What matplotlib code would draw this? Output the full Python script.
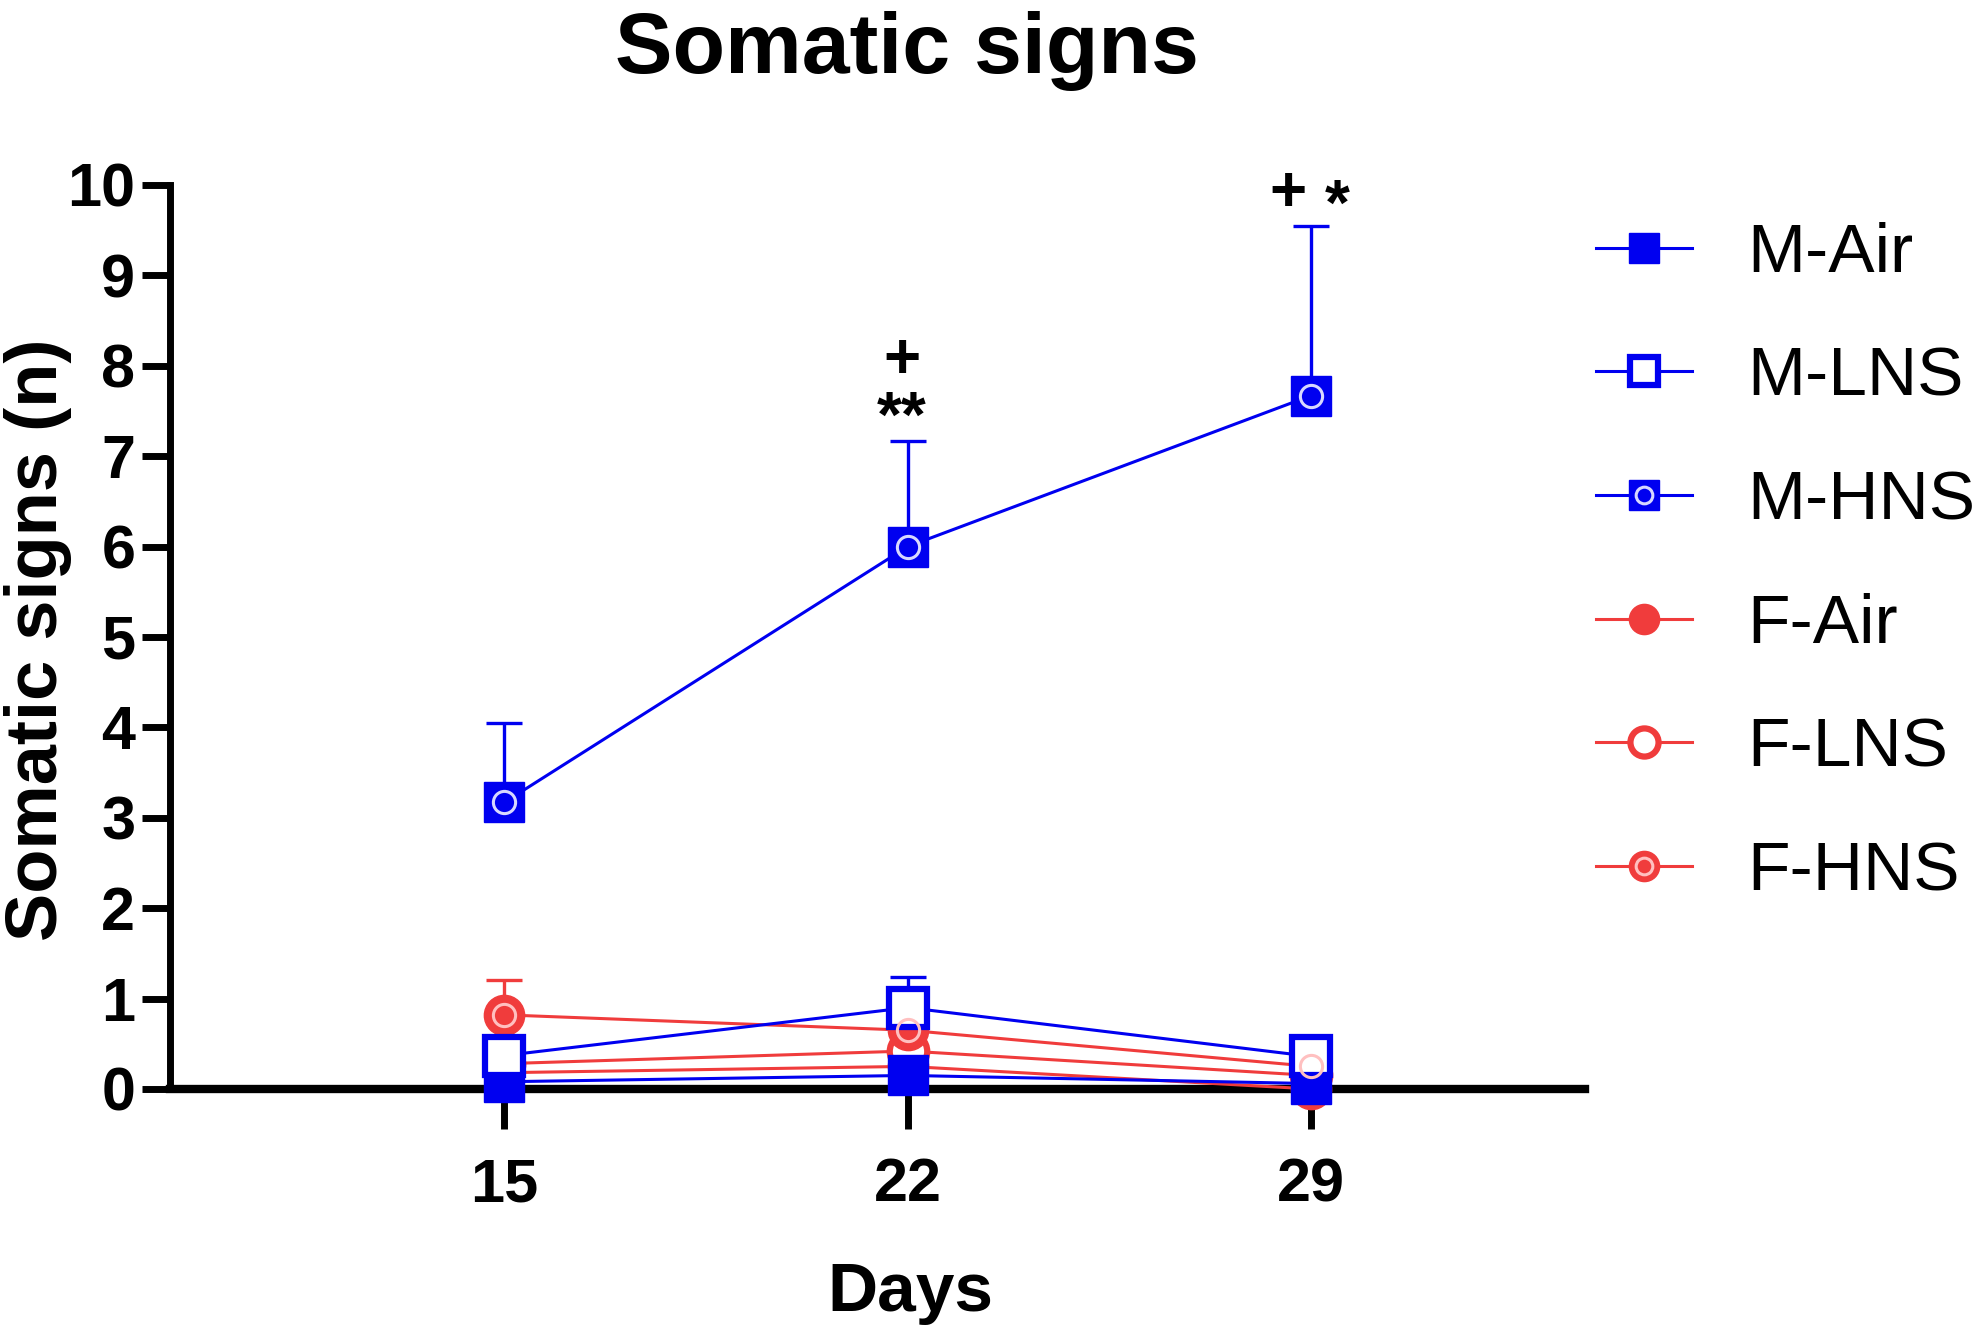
import numpy as np
import matplotlib
matplotlib.use("Agg")
import matplotlib.pyplot as plt
from matplotlib.path import Path
from matplotlib.legend_handler import HandlerTuple

plt.rcParams['font.family'] = ['Liberation Sans', 'DejaVu Sans']

# Data (mean and upper SEM)
days = [15, 22, 29]
groups = ["M-Air", "M-LNS", "M-HNS", "F-Air", "F-LNS", "F-HNS"]
m_air = [0.08, 0.15, 0.06]
m_air_sem = [0.08, 0.10, 0.05]
m_lns = [0.37, 0.90, 0.36]
m_lns_sem = [0.15, 0.34, 0.15]
m_hns = [3.17, 6.00, 7.67]
m_hns_sem = [0.88, 1.17, 1.88]
f_air = [0.18, 0.25, 0.00]
f_air_sem = [0.10, 0.12, 0.00]
f_lns = [0.28, 0.42, 0.15]
f_lns_sem = [0.12, 0.20, 0.10]
f_hns = [0.82, 0.65, 0.25]
f_hns_sem = [0.38, 0.25, 0.12]

BLUE = '#0000F0'
RED = '#F03C3C'

# small ring drawn inside the HNS markers
ring = Path.unit_circle()

series = {
    "F-Air": (f_air, f_air_sem, RED, 'o', 'full'),
    "F-LNS": (f_lns, f_lns_sem, RED, 'o', 'none'),
    "F-HNS": (f_hns, f_hns_sem, RED, 'o', 'hns'),
    "M-Air": (m_air, m_air_sem, BLUE, 's', 'full'),
    "M-LNS": (m_lns, m_lns_sem, BLUE, 's', 'none'),
    "M-HNS": (m_hns, m_hns_sem, BLUE, 's', 'hns'),
}

fig = plt.figure(figsize=(19.8, 13.37), dpi=100)
ax = fig.add_axes([0.0859, 0.1855, 0.7146, 0.6762])

handles = {}
for name, (vals, sem, col, mk, style) in series.items():
    vals = np.array(vals)
    sem = np.array(sem)
    ax.errorbar(days, vals, yerr=[np.zeros_like(sem), sem], fmt='none',
                ecolor=col, elinewidth=2.4, capsize=13, capthick=2.4, zorder=2,
                clip_on=False)
    if style == 'none':
        ln, = ax.plot(days, vals, color=col, lw=2.2, marker=mk, ms=27,
                      mfc='white', mec=col, mew=4.5, zorder=3, clip_on=False)
        handles[name] = ln
    else:
        ln, = ax.plot(days, vals, color=col, lw=2.2, marker=mk, ms=29,
                      mfc=col, mec=col, mew=1, zorder=3, clip_on=False)
        handles[name] = ln
        if style == 'hns':
            inner = '#D8D8FF' if col == BLUE else '#FFC0C0'
            ov, = ax.plot(days, vals, ls='none', marker=ring, ms=16,
                          mfc='none', mec=inner, mew=2.2, zorder=3.5,
                          clip_on=False)
            handles[name] = (ln, ov)

# significance marks
ax.text(21.9, 8.05, '+', ha='center', va='center', fontsize=46, fontweight='bold')
ax.text(21.9, 7.4, '**', ha='center', va='center', fontsize=46, fontweight='bold')
ax.text(28.6, 9.9, '+', ha='center', va='center', fontsize=46, fontweight='bold')
ax.text(29.45, 9.75, '*', ha='center', va='center', fontsize=46, fontweight='bold')

ax.set_xlim(9.2, 33.75)
ax.set_ylim(0, 10)
ax.set_xticks(days)
ax.set_yticks(range(0, 11))
for s in ['top', 'right']:
    ax.spines[s].set_visible(False)
ax.spines['left'].set_linewidth(5)
ax.spines['bottom'].set_linewidth(6)
ax.tick_params(axis='y', length=20, width=5, pad=5, labelsize=44)
ax.tick_params(axis='x', length=29, width=5, pad=20, labelsize=44)
for lab in ax.get_xticklabels() + ax.get_yticklabels():
    lab.set_fontweight('bold')

ax.set_xlabel('Days', fontsize=50, fontweight='bold')
ax.xaxis.set_label_coords(0.523, -0.19)
ax.set_ylabel('Somatic signs (n)', fontsize=52, fontweight='bold')
ax.yaxis.set_label_coords(-0.069, 0.497)
fig.text(0.458, 0.962, 'Somatic signs', ha='center', va='center',
         fontsize=62, fontweight='bold')

order = ["M-Air", "M-LNS", "M-HNS", "F-Air", "F-LNS", "F-HNS"]
fig.legend([handles[g] for g in order], order, loc='center left',
           bbox_to_anchor=(0.806, 0.5788), frameon=False, fontsize=50,
           handlelength=1.38, handletextpad=0.8, labelspacing=0.86,
           borderpad=0, borderaxespad=0, markerscale=0.75,
           handler_map={tuple: HandlerTuple(ndivide=1)})

fig.savefig('out.png', dpi=100)
